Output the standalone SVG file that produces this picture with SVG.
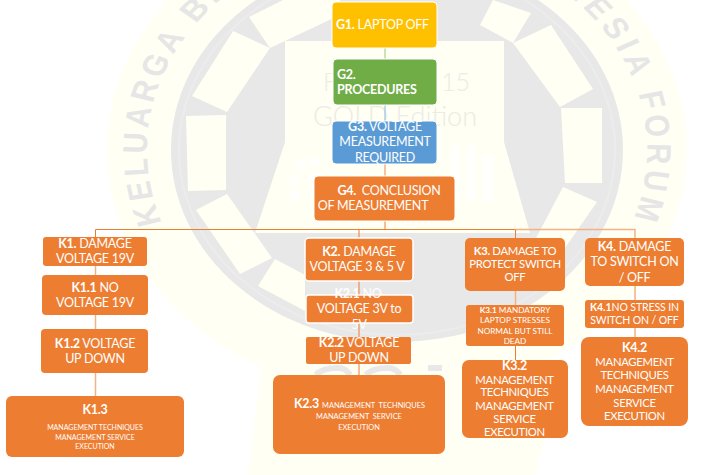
<svg xmlns="http://www.w3.org/2000/svg" width="716" height="475" viewBox="0 0 716 475">
<style>
.pale{fill:#fffff3}
.grey{fill:#e8e8e8}
.wm{fill:#e6e6e6;font-family:"Liberation Sans",Arial,sans-serif;font-weight:700;font-size:34px}
.faint{fill:#ecebe6;font-family:"Lato","Noto Sans",sans-serif;font-weight:300}
.o{fill:#ed7d31}
.w{stroke:#fff;stroke-width:1.5}
text.t{fill:#fff;font-family:"Lato","Noto Sans",sans-serif;font-size:12.5px;text-anchor:middle;letter-spacing:-.25px;white-space:pre}
text.s{font-size:11.3px;letter-spacing:-.3px}
text.k41{font-size:10.5px;letter-spacing:-.1px}
text.xs{font-size:7px;letter-spacing:0}
text.xl{font-size:7.4px;letter-spacing:0}
text.m{font-size:8.2px;letter-spacing:0}
.b{font-weight:700}
#connectors path{fill:none;stroke:#ed7d31;stroke-width:1}
#connectors path.l{stroke:#f4b183;stroke-width:1.5}
</style>
<defs>
<path id="arcL" d="M-235 85.500A250 250 0 0 1 0 -250"/>
<path id="arcR" d="M0 -250A250 250 0 0 1 235 85.500"/>
</defs>
<rect width="716" height="475" fill="#fff"/>
<g id="watermark">
<polygon class="pale" points="263,353 330,335 470,335 565,365 535,475 248,475"/>
<ellipse class="pale" cx="397" cy="150" rx="290" ry="245"/>
<ellipse class="grey" cx="397" cy="150" rx="226" ry="192"/>
<ellipse cx="397" cy="150" rx="218" ry="185" fill="none" stroke="#ececec" stroke-width="2"/>
<polygon class="pale" points="233,31 270,48 227,112 192,96"/>
<polygon class="pale" points="186,116 226,115 226,190 188,191"/>
<polygon class="pale" points="249,17 283,0 340,0 340,15 270,48"/>
<polygon class="pale" points="196,210 227,194 272,258 240,274"/>
<polygon class="pale" points="275,259 258,286 305,311 305,275"/>
<polygon class="pale" points="551,25 593,89 560,107 513,43"/>
<polygon class="pale" points="561,108 602,108 602,183 565,183"/>
<polygon class="pale" points="563,187 597,202 560,255 535,240"/>
<polygon class="pale" points="493,0 531,13 513,43 480,25"/>
<polygon class="pale" points="285,41 504,41 504,142 530,233 255,233 285,142"/>
<g fill="#fffffb">
<rect x="450" y="146" width="10" height="56"/>
<rect x="466" y="146" width="10" height="56"/>
<rect x="482" y="155" width="12" height="47"/>
<rect x="290" y="190" width="10" height="11"/>
<rect x="290" y="175" width="10" height="10"/>
<rect x="296" y="160" width="10" height="10"/>
<rect x="308" y="157" width="12" height="10"/>
<rect x="308" y="172" width="12" height="10"/>
<rect x="308" y="187" width="12" height="10"/>
</g>
<g transform="translate(397 150) scale(1 .85)">
<text class="wm" letter-spacing="5"><textPath href="#arcL">KELUARGA BE</textPath></text>
<text class="wm" text-anchor="end" letter-spacing="6"><textPath href="#arcR" startOffset="100%">NESIA FORUM</textPath></text>
</g>
<text class="faint" x="323" y="91" font-size="25">F</text>
<text class="faint" x="441" y="91" font-size="25">15</text>
<text class="faint" x="313" y="126" font-size="27" textLength="164">GOLD Edition</text>
<g fill="none" stroke="#e8e8e8" stroke-width="6">
<path d="M316 375Q322 368 338 368Q346 368 350 375"/>
<path d="M366 375Q372 368 388 368Q396 368 400 375"/>
<path d="M428 368L442 368"/>
</g>
</g>
<g id="connectors">
<path d="M385 48V59" style="stroke:#a9d18e;stroke-width:1.2"/>
<path d="M385 105V121" style="stroke:#9dc3e6;stroke-width:1.2"/>
<path d="M385 164V176" class="l"/>
<path d="M385 221V230"/>
<path d="M95.500 237V229.500H515.500"/>
<path d="M515.500 229.500H635V238" class="l"/>
<path d="M359 229.500V238"/>
<path d="M515.500 229.500V238"/>
<path d="M95.500 266V275" class="l"/>
<path d="M95.500 315V329" class="l"/>
<path d="M95.500 373V396" class="l"/>
<path d="M359 281V295"/>
<path d="M359 323V337"/>
<path d="M359 364V375"/>
<path d="M515.500 291V305" class="l"/>
<path d="M515.500 346V360"/>
<path d="M635 286V300" class="l"/>
<path d="M635 328V337" class="l"/>
</g>
<g id="G1"><rect x="332" y="2" width="105" height="46" rx="4" fill="#ffc000" stroke="#fff"/>
<text class="t" x="382.500" y="29"><tspan class="b">G1.</tspan> LAPTOP OFF</text></g>
<g id="G2"><rect x="333" y="59" width="104" height="46" rx="4" fill="#70ad47" stroke="#fff"/>
<text class="t b" x="337" y="79" style="text-anchor:start">G2.</text>
<text class="t b" x="337" y="94" style="text-anchor:start">PROCEDURES</text></g>
<g id="G3"><rect x="332" y="121" width="105" height="43" rx="4" fill="#5b9bd5" stroke="#fff"/>
<text class="t" x="385" y="131"><tspan class="b">G3.</tspan> VOLTAGE</text>
<text class="t" x="385" y="146">MEASUREMENT</text>
<text class="t" x="385" y="162">REQUIRED</text></g>
<g id="G4"><rect class="o" x="314" y="176" width="141" height="45" rx="4" stroke="#fff"/>
<text class="t" x="389" y="195"><tspan class="b">G4.</tspan>  CONCLUSION</text>
<text class="t" x="373" y="210">OF MEASUREMENT</text></g>

<g id="K1"><rect class="o" x="43" y="237" width="104" height="29" rx="3"/>
<text class="t" x="95" y="248"><tspan class="b">K1.</tspan> DAMAGE</text>
<text class="t" x="95" y="263">VOLTAGE 19V</text></g>
<g id="K1.1"><rect class="o" x="42" y="275" width="106" height="40" rx="4"/>
<text class="t" x="95" y="292"><tspan class="b">K1.1</tspan> NO</text>
<text class="t" x="95" y="307">VOLTAGE 19V</text></g>
<g id="K1.2"><rect class="o" x="41" y="329" width="107" height="44" rx="4"/>
<text class="t" x="95" y="348"><tspan class="b">K1.2</tspan> VOLTAGE</text>
<text class="t" x="95" y="363">UP DOWN</text></g>
<g id="K1.3"><rect class="o" x="6" y="396" width="178" height="61" rx="6"/>
<text class="t b" x="95" y="414">K1.3</text>
<text class="t xs" x="95" y="430">MANAGEMENT TECHNIQUES</text>
<text class="t xs" x="95" y="440">MANAGEMENT SERVICE</text>
<text class="t xs" x="95" y="449">EXECUTION</text></g>

<g id="K2"><rect class="o w" x="305" y="238" width="108" height="43" rx="4"/>
<text class="t" x="359" y="256"><tspan class="b">K2.</tspan> DAMAGE</text>
<text class="t" x="357" y="271">VOLTAGE 3 &amp; 5 V</text></g>
<g id="K2.1"><rect class="o w" x="306" y="295" width="107" height="28" rx="3"/>
<text class="t" x="358" y="298"><tspan class="b">K2.1</tspan> NO</text>
<text class="t" x="359" y="313">VOLTAGE 3V to</text>
<text class="t" x="359" y="329">5V</text></g>
<g id="K2.2"><rect class="o" x="306" y="337" width="105" height="27" rx="2"/>
<text class="t" x="359" y="347"><tspan class="b">K2.2</tspan> VOLTAGE</text>
<text class="t" x="359" y="362">UP DOWN</text></g>
<g id="K2.3"><rect class="o" x="273" y="375" width="172" height="79" rx="7"/>
<text class="t" x="359.500" y="408"><tspan class="b">K2.3</tspan> <tspan style="font-size:7.400px;letter-spacing:0">MANAGEMENT  TECHNIQUES</tspan></text>
<text class="t xl" x="359" y="419">MANAGEMENT  SERVICE</text>
<text class="t xl" x="359" y="430">EXECUTION</text></g>

<g id="K3"><rect class="o" x="465" y="238" width="100" height="53" rx="5"/>
<text class="t s" x="515" y="255"><tspan class="b">K3.</tspan> DAMAGE TO</text>
<text class="t s" x="515" y="268">PROTECT SWITCH</text>
<text class="t s" x="515" y="281">OFF</text></g>
<g id="K3.1"><rect class="o" x="466" y="305" width="98" height="41" rx="3"/>
<text class="t m" x="515" y="313"><tspan class="b">K3.1</tspan> MANDATORY</text>
<text class="t m" x="515" y="323">LAPTOP STRESSES</text>
<text class="t m" x="515" y="334">NORMAL BUT STILL</text>
<text class="t m" x="515" y="344">DEAD</text></g>
<g id="K3.2"><rect class="o" x="462" y="360" width="106" height="78" rx="7"/>
<text class="t b" x="514.500" y="370">K3.2</text>
<text class="t s" x="514.500" y="384">MANAGEMENT</text>
<text class="t s" x="514.500" y="396">TECHNIQUES</text>
<text class="t s" x="514.500" y="410">MANAGEMENT</text>
<text class="t s" x="514.500" y="423">SERVICE</text>
<text class="t s" x="514.500" y="436">EXECUTION</text></g>

<g id="K4"><rect class="o" x="585" y="238" width="99" height="48" rx="5"/>
<text class="t" x="634.500" y="251"><tspan class="b">K4.</tspan> DAMAGE</text>
<text class="t" x="634.500" y="266">TO SWITCH ON</text>
<text class="t" x="634.500" y="282">/ OFF</text></g>
<g id="K4.1"><rect class="o" x="585" y="300" width="99" height="28" rx="3"/>
<text class="t k41" x="634.500" y="311"><tspan class="b">K4.1</tspan>NO STRESS IN</text>
<text class="t k41" x="634.500" y="324">SWITCH ON / OFF</text></g>
<g id="K4.2"><rect class="o" x="581" y="337" width="107" height="89" rx="8"/>
<text class="t b" x="634.500" y="352">K4.2</text>
<text class="t s" x="634.500" y="366">MANAGEMENT</text>
<text class="t s" x="634.500" y="379">TECHNIQUES</text>
<text class="t s" x="634.500" y="393">MANAGEMENT</text>
<text class="t s" x="634.500" y="407">SERVICE</text>
<text class="t s" x="634.500" y="420">EXECUTION</text></g>
</svg>
